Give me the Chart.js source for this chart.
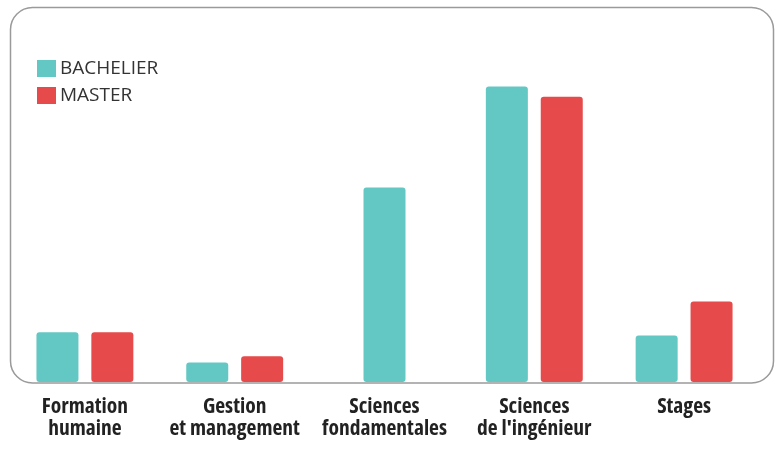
<!DOCTYPE html>
<html><head><meta charset="utf-8">
<script src="https://cdn.jsdelivr.net/npm/chart.js@4.4.1/dist/chart.umd.min.js"></script>
<style>html,body{margin:0;padding:0;background:#fff}#wrap{width:783px;height:452px}</style>
</head><body><div id="wrap"><canvas id="c" width="783" height="452"></canvas></div>
<script>
const categories = [["Formation","humaine"],["Gestion","et management"],["Sciences","fondamentales"],["Sciences","de l'ingénieur"],["Stages"]];
const seriesNames = ["BACHELIER","MASTER"];
const bachelier = [13.3, 5.2, 51.9, 78.8, 12.4];
const master = [13.3, 6.9, null, 76.1, 21.5];
const colors = ["#63C7C3","#E64A4A"];
const FONT = "'Open Sans',sans-serif";

const boxPlugin = {
  id:'box',
  beforeDatasetsDraw(chart){
    const ctx=chart.ctx, a=chart.chartArea;
    const x0=10.5, y0=7.5, x1=773.5, y1=a.bottom+1, r=22;
    ctx.save();
    ctx.strokeStyle='#9a9a9a'; ctx.lineWidth=1.5;
    ctx.beginPath();
    ctx.moveTo(x0+r,y0); ctx.lineTo(x1-r,y0); ctx.arcTo(x1,y0,x1,y0+r,r);
    ctx.lineTo(x1,y1-r); ctx.arcTo(x1,y1,x1-r,y1,r);
    ctx.lineTo(x0+r,y1); ctx.arcTo(x0,y1,x0,y1-r,r);
    ctx.lineTo(x0,y0+r); ctx.arcTo(x0,y0,x0+r,y0,r);
    ctx.closePath(); ctx.stroke(); ctx.restore();
  },
  afterDraw(chart){
    const ctx=chart.ctx;
    ctx.save();
    ctx.font="400 19px "+FONT; ctx.textBaseline='middle';
    chart.data.datasets.forEach((d,i)=>{
      const y=60+i*27;
      ctx.fillStyle=d.backgroundColor; ctx.fillRect(37,y,19,17);
      ctx.fillStyle='#333'; ctx.fillText(d.label,60,y+9);
    });
    ctx.restore();
  }
};

new Chart(document.getElementById('c'),{
  type:'bar',
  data:{labels:categories,datasets:[
    {label:seriesNames[0],data:bachelier,backgroundColor:colors[0]},
    {label:seriesNames[1],data:master,backgroundColor:colors[1]}
  ]},
  options:{
    responsive:false,animation:false,
    layout:{padding:{left:10,right:24,top:7,bottom:0}},
    datasets:{bar:{categoryPercentage:0.733,barPercentage:0.77,maxBarThickness:42,borderRadius:3,borderSkipped:false,skipNull:true}},
    plugins:{legend:{display:false},tooltip:{enabled:false}},
    scales:{
      x:{grid:{display:false},border:{display:false},afterFit(s){s.height=70;},
         ticks:{color:'#222',font:{family:FONT,size:21.5,weight:'condensed bold',lineHeight:1.03},padding:6,maxRotation:0,autoSkip:false}},
      y:{display:false,min:0,max:100}
    }
  },
  plugins:[boxPlugin]
});
</script></body></html>
